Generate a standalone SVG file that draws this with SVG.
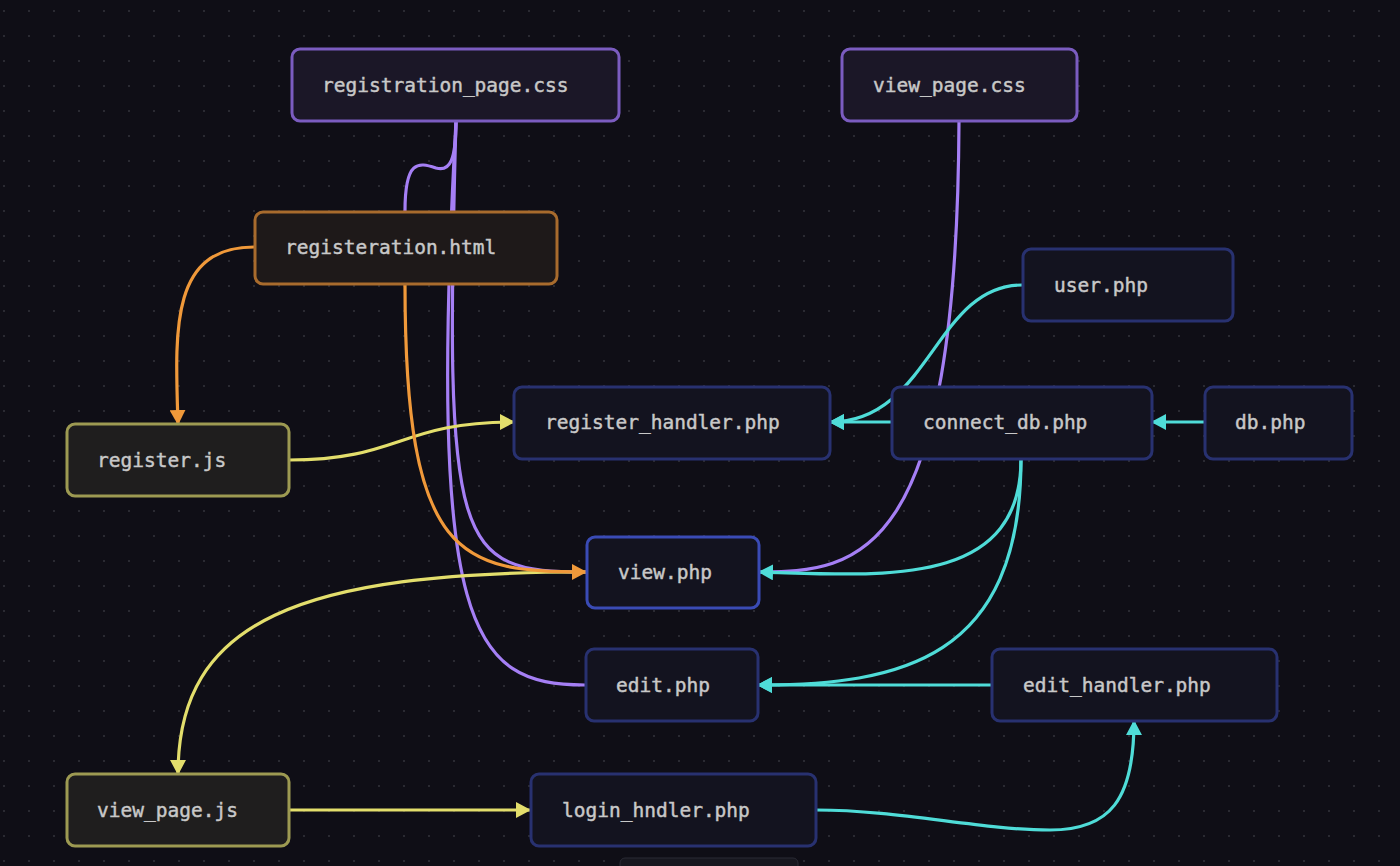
<svg xmlns="http://www.w3.org/2000/svg" width="1400" height="866" viewBox="0 0 1400 866">
<defs>
<pattern id="dots" x="0" y="0" width="25" height="25" patternUnits="userSpaceOnUse">
<rect x="3" y="10" width="2" height="2" fill="#2a2a32"/>
</pattern>
<marker id="aO" markerUnits="userSpaceOnUse" markerWidth="16" markerHeight="16" refX="14" refY="8" orient="auto"><path d="M0,0 L15,8 L0,16 Z" fill="#f0993a"/></marker>
<marker id="aY" markerUnits="userSpaceOnUse" markerWidth="16" markerHeight="16" refX="14" refY="8" orient="auto"><path d="M0,0 L15,8 L0,16 Z" fill="#e3de6c"/></marker>
<marker id="aC" markerUnits="userSpaceOnUse" markerWidth="16" markerHeight="16" refX="14" refY="8" orient="auto"><path d="M0,0 L15,8 L0,16 Z" fill="#4fdcd8"/></marker>
</defs>
<style>
.e{fill:none;stroke-width:3.2}
.p{stroke:#a57ff5}
.o{stroke:#f0993a}
.y{stroke:#e3de6c}
.c{stroke:#4fdcd8}
.n rect{stroke-width:3}
.php rect{fill:#13131f;stroke:#283170}
.css rect{fill:#1b1727;stroke:#7b5cc0}
.html rect{fill:#1e1919;stroke:#a86b2d}
.js rect{fill:#1f1e1e;stroke:#9d9a52}
.n text{font-family:"DejaVu Sans Mono","Liberation Mono",monospace;font-size:19.5px;fill:#c8c8c8;stroke:#c8c8c8;stroke-width:0.45}
</style>
<rect width="1400" height="866" fill="#0f0e16"/>
<rect width="1400" height="866" fill="url(#dots)"/>
<g id="connectors">
<path class="e p" d="M456,121 C456,160 450,172 436,168 C418,162 405,160 405,211"/>
<path class="e p" d="M456,121 C444,550 455,572 586,572"/>
<path class="e p" d="M456,121 C428,630 470,685 585,685"/>
<path class="e p" d="M959,121 C957,560 860,572 759,572"/>
<path class="e y" d="M289,460 C400,460 400,422 514,422" marker-end="url(#aY)"/>
<path class="e y" d="M586,572 C300,572 178,620 178,774" marker-end="url(#aY)"/>
<path class="e y" d="M289,810 L530,810" marker-end="url(#aY)"/>
<path class="e o" d="M254,247 C170,247 175,330 178,424" marker-end="url(#aO)"/>
<path class="e o" d="M405,284 C405,560 460,572 586,572" marker-end="url(#aO)"/>
<path class="e c" d="M1022,285 C935,285 930,422 830,422" marker-end="url(#aC)"/>
<path class="e c" d="M891,422 L830,422" marker-end="url(#aC)"/>
<path class="e c" d="M1204,422 L1152,422" marker-end="url(#aC)"/>
<path class="e c" d="M1021,459 C1021,590 880,575 759,572" marker-end="url(#aC)"/>
<path class="e c" d="M1021,459 C1021,660 900,685 758,685" marker-end="url(#aC)"/>
<path class="e c" d="M991,685 L758,685" marker-end="url(#aC)"/>
<path class="e c" d="M816,810 C900,810 980,830 1050,830 C1110,830 1134,800 1134,721" marker-end="url(#aC)"/>
</g>
<g id="registration_page_css" class="n css"><rect x="292" y="49" width="327" height="72" rx="8"/><text x="322" y="91.5">registration_page.css</text></g>
<g id="view_page_css" class="n css"><rect x="842" y="49" width="235" height="72" rx="8"/><text x="873" y="91.5">view_page.css</text></g>
<g id="registeration_html" class="n html"><rect x="255" y="212" width="302" height="72" rx="8"/><text x="285" y="254">registeration.html</text></g>
<g id="user_php" class="n php"><rect x="1023" y="249" width="210" height="72" rx="8"/><text x="1054" y="291.5">user.php</text></g>
<g id="register_handler_php" class="n php"><rect x="514" y="387" width="316" height="72" rx="8"/><text x="545" y="429">register_handler.php</text></g>
<g id="connect_db_php" class="n php"><rect x="892" y="387" width="260" height="72" rx="8"/><text x="923" y="429">connect_db.php</text></g>
<g id="db_php" class="n php"><rect x="1205" y="387" width="147" height="72" rx="8"/><text x="1235" y="429">db.php</text></g>
<g id="register_js" class="n js"><rect x="67" y="424" width="222" height="72" rx="8"/><text x="97" y="467">register.js</text></g>
<g id="view_php" class="n php"><rect x="587" y="537" width="172" height="71" rx="8" style="stroke:#3a4bb5"/><text x="618" y="579">view.php</text></g>
<g id="edit_php" class="n php"><rect x="586" y="649" width="172" height="72" rx="8"/><text x="616" y="692">edit.php</text></g>
<g id="edit_handler_php" class="n php"><rect x="992" y="649" width="285" height="72" rx="8"/><text x="1023" y="692">edit_handler.php</text></g>
<g id="view_page_js" class="n js"><rect x="67" y="774" width="222" height="72" rx="8"/><text x="97" y="817">view_page.js</text></g>
<g id="login_hndler_php" class="n php"><rect x="531" y="774" width="285" height="72" rx="8"/><text x="562" y="817">login_hndler.php</text></g>
<rect x="620" y="858" width="178" height="30" rx="5" fill="#17171f" stroke="#2a2a34" stroke-width="1"/>
</svg>
